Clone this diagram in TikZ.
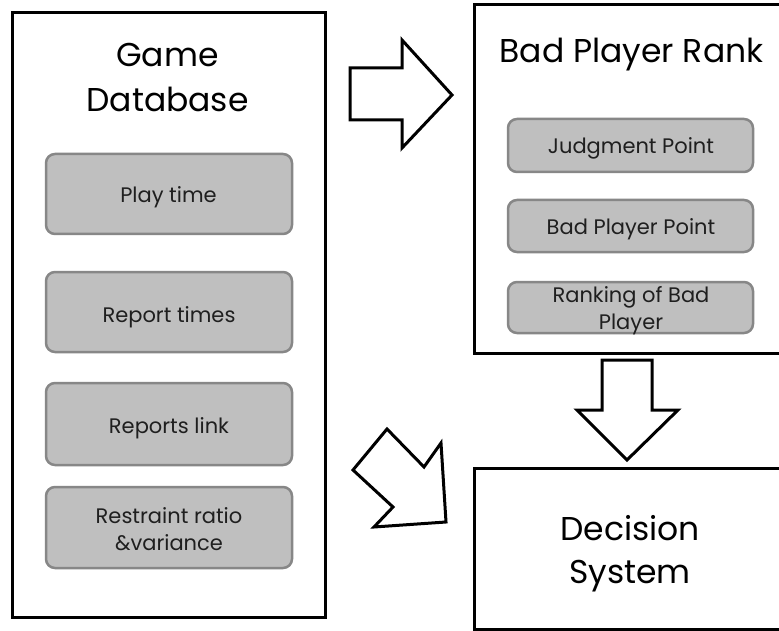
\documentclass[tikz,border=0pt]{standalone}
\usepackage{fontspec}
\setmainfont{Poppins}
\begin{document}
\begin{tikzpicture}[x=1pt,y=-1pt,
  frame/.style={draw=black,line width=3pt,fill=white,inner sep=0pt},
  item/.style={draw=black!47,fill=black!25,line width=2.5pt,rounded corners=9pt,inner sep=0pt},
  itemtext/.style={anchor=base,align=center,inner sep=0pt,text=black!88,font=\fontsize{21}{27}\selectfont},
  title/.style={anchor=base,align=center,inner sep=0pt,font=\fontsize{33}{45}\selectfont},
  blockarrow/.style={draw=black,line width=3pt,fill=white,line join=miter}]
\useasboundingbox (0,0) rectangle (779,631);
\clip (0,0) rectangle (779,631);
% outer frames
\node[frame,minimum width=313pt,minimum height=604pt] (db) at (168.5,315) {};
\node[frame,minimum width=340pt,minimum height=348pt] (rank) at (644,179) {};
\node[frame,minimum width=340pt,minimum height=161pt] (dec) at (644,548.5) {};
% titles (base anchor sits on the last line)
\node[title] (dbt) at (167.5,112) {Game\\Database};
\node[title] (rankt) at (631.5,63) {Bad Player Rank};
\node[title,font=\fontsize{33}{43}\selectfont] (dect) at (630,583) {Decision\\System};
% database fields
\node[item,minimum width=246pt,minimum height=80pt] (play) at (169,194) {};
\node[item,minimum width=246pt,minimum height=80pt] (rtimes) at (169,312) {};
\node[item,minimum width=246pt,minimum height=82pt] (rlink) at (169,424) {};
\node[item,minimum width=246pt,minimum height=81pt] (restr) at (169,527.5) {};
\node[itemtext] (playt) at (168.5,203) {Play time};
\node[itemtext] (rtimest) at (169,322) {Report times};
\node[itemtext] (rlinkt) at (169,433) {Reports link};
\node[itemtext] (restrt) at (169,550) {Restraint ratio\\\&variance};
% rank fields
\node[item,minimum width=245pt,minimum height=53pt] (judge) at (630.5,145.5) {};
\node[item,minimum width=245pt,minimum height=52pt] (bpp) at (630.5,226) {};
\node[item,minimum width=245pt,minimum height=51pt] (rk) at (630.5,307.5) {};
\node[itemtext] (judget) at (631,154) {Judgment Point};
\node[itemtext] (bppt) at (631,235) {Bad Player Point};
\node[itemtext] (rkt) at (631,329) {Ranking of Bad\\Player};
% block arrows between the stages
\draw[blockarrow] (350,68) -- (402,68) -- (402,40) -- (452,95) -- (402,148) -- (402,120) -- (350,120) -- cycle;
\draw[blockarrow] (602,360) -- (652,360) -- (652,410) -- (678,410) -- (627,460) -- (577,410) -- (602,410) -- cycle;
\draw[blockarrow] (387,429) -- (424,467) -- (441,443) -- (446,522) -- (374,527) -- (393,507) -- (353,470) -- cycle;
\end{tikzpicture}
\end{document}
